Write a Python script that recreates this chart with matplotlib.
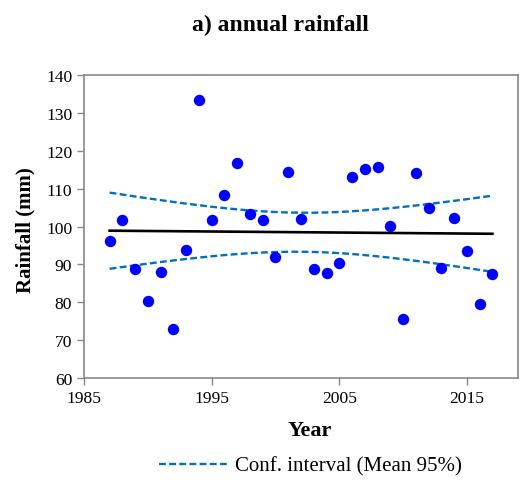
import numpy as np
import matplotlib
matplotlib.use("Agg")
import matplotlib.pyplot as plt

years = list(range(1987, 2018))
rainfall = [96.2, 101.8, 88.9, 80.3, 88.0, 73.0, 93.7, 133.4, 101.7, 108.3, 116.8,
            103.3, 101.6, 92.0, 114.3, 102.1, 88.8, 87.8, 90.4, 113.0, 115.3, 115.8,
            100.1, 75.6, 114.1, 104.9, 89.1, 102.3, 93.5, 79.6, 87.5]
xticks = [1985, 1995, 2005, 2015]
yticks = [60, 70, 80, 90, 100, 110, 120, 130, 140]

plt.rcParams['font.family'] = ['Liberation Serif', 'DejaVu Serif']

x = np.array(years, dtype=float)
y = np.array(rainfall, dtype=float)
n = len(x)
b, a = np.polyfit(x, y, 1)
fit = a + b * x
resid = y - fit
s = np.sqrt(np.sum(resid**2) / (n - 2))
sxx = np.sum((x - x.mean())**2)
tval = 2.045
half = tval * s * np.sqrt(1.0 / n + (x - x.mean())**2 / sxx)

fig = plt.figure(figsize=(5.29, 4.81), dpi=100)
ax = fig.add_axes([0.159, 0.212, 0.820, 0.630])

gray = '#898989'
ax.plot(x, y, 'o', color='#0000FF', markersize=7.2, zorder=3)
ax.plot(x, fit, color='black', lw=1.9, zorder=2)
ci, = ax.plot(x, fit + half, '--', color='#0070C0', lw=1.7, dashes=(2.9, 1.4), zorder=2)
ax.plot(x, fit - half, '--', color='#0070C0', lw=1.7, dashes=(2.9, 1.4), zorder=2)

ax.set_xlim(1985, 2019)
ax.set_ylim(60, 140)
ax.set_xticks(xticks)
ax.set_yticks(yticks)
for sp in ax.spines.values():
    sp.set_color(gray)
    sp.set_linewidth(1.2)
ax.tick_params(axis='both', colors=gray, labelcolor='black', labelsize=12.6,
               direction='out', length=5, width=1)
ax.set_xlabel('Year', fontsize=16, fontweight='bold')
ax.set_ylabel('Rainfall (mm)', fontsize=15, fontweight='bold')
ax.xaxis.set_label_coords(0.521, -0.139)
ax.yaxis.set_label_coords(-0.113, 0.49)
fig.text(0.531, 0.948, 'a) annual rainfall', ha='center', va='center',
         fontsize=17, fontweight='bold')

fig.legend([ci], ['Conf. interval (Mean 95%)'], loc='center',
           bbox_to_anchor=(0.587, 0.029), frameon=False, fontsize=15,
           handlelength=3.3, handletextpad=0.34, borderpad=0, borderaxespad=0)

fig.savefig('out.png', dpi=100)
